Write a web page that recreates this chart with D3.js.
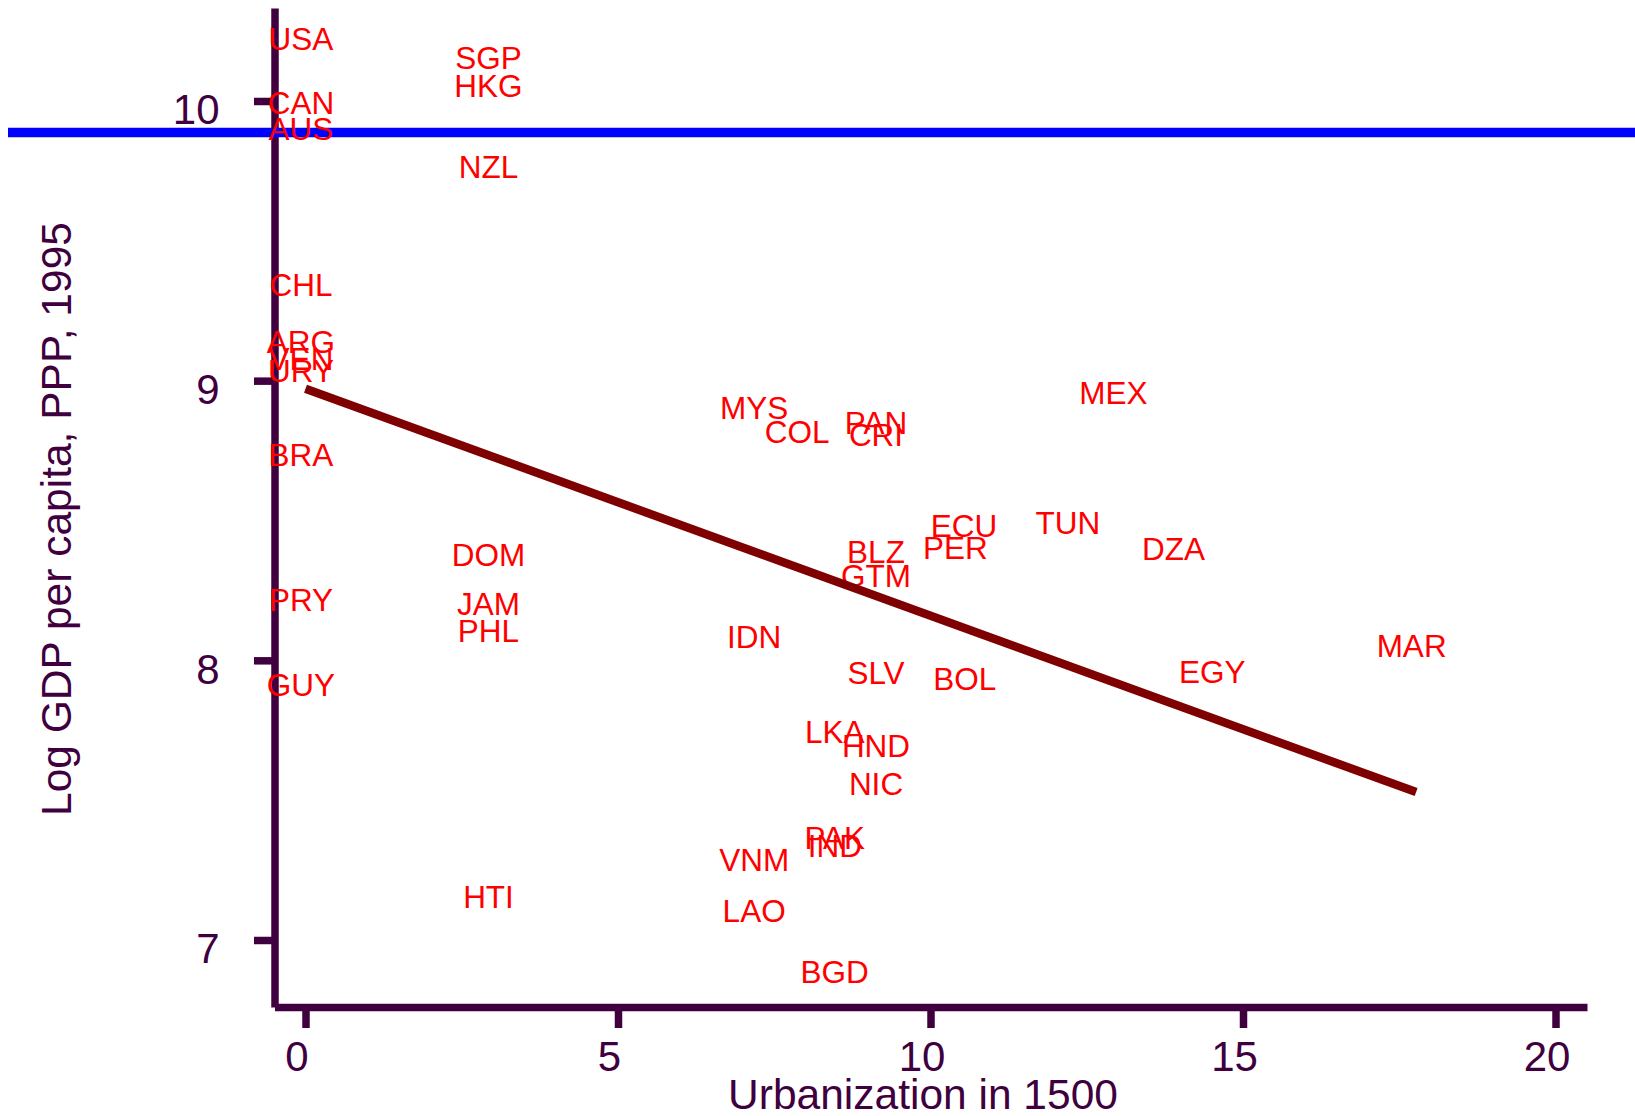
<!DOCTYPE html>
<html>
<head>
<meta charset="utf-8">
<script src="https://cdn.jsdelivr.net/npm/d3@7"></script>
<style>
  html, body { margin: 0; padding: 0; background: #fff; }
  svg { display: block; font-family: 'Liberation Sans', Arial, sans-serif; }
</style>
</head>
<body>
<script>
// Country codes, urbanization in 1500 and log GDP per capita 1995
const countries = ['USA', 'CAN', 'AUS', 'CHL', 'ARG', 'VEN', 'URY', 'BRA', 'PRY', 'GUY',
  'SGP', 'HKG', 'NZL', 'DOM', 'JAM', 'PHL', 'HTI',
  'MYS', 'COL', 'IDN', 'VNM', 'LAO',
  'LKA', 'PAK', 'IND', 'BGD',
  'PAN', 'CRI', 'BLZ', 'GTM', 'SLV', 'HND', 'NIC',
  'ECU', 'PER', 'BOL', 'TUN', 'MEX', 'DZA', 'EGY', 'MAR'];
const urban = [0, 0, 0, 0, 0, 0, 0, 0, 0, 0,
  3, 3, 3, 3, 3, 3, 3,
  7.25, 7.94, 7.25, 7.25, 7.25,
  8.54, 8.54, 8.54, 8.54,
  9.2, 9.2, 9.2, 9.2, 9.2, 9.2, 9.2,
  10.61, 10.47, 10.62, 12.27, 13, 13.96, 14.58, 17.77];
const logGdp = [10.221, 9.994, 9.901, 9.342, 9.140, 9.079, 9.034, 8.734, 8.217, 7.914,
  10.156, 10.054, 9.765, 8.378, 8.202, 8.106, 7.155,
  8.903, 8.817, 8.083, 7.285, 7.103,
  7.744, 7.364, 7.338, 6.886,
  8.851, 8.806, 8.389, 8.303, 7.956, 7.695, 7.557,
  8.482, 8.404, 7.934, 8.493, 8.956, 8.400, 7.960, 8.053];

// Fitted line end points and reference line
const fitX = [0, 17.77];
const fitY = [8.971, 7.529];
const refY = [9.887];

const xTicks = [0, 5, 10, 15, 20];
const yTicks = [7, 8, 9, 10];

document.addEventListener('DOMContentLoaded', () => {
  const width = 1635;
  const height = 1116;
  const axisColor = '#400040';

  const svg = d3.select('body')
    .append('svg')
    .attr('width', width)
    .attr('height', height);

  // Scales
  const xScale = d3.scaleLinear()
    .domain([-0.496, 20.504])
    .range([274.5, 1587]);

  const yScale = d3.scaleLinear()
    .domain([6.7604, 10.3325])
    .range([1007, 8]);

  // X axis
  const xAxis = d3.axisBottom(xScale)
    .tickValues(xTicks)
    .tickFormat(d3.format('d'))
    .tickSize(21)
    .tickSizeOuter(0);

  const gx = svg.append('g')
    .attr('transform', `translate(0, ${yScale.range()[0]})`)
    .call(xAxis);

  gx.select('.domain')
    .attr('stroke', axisColor)
    .attr('stroke-width', 7.5);
  gx.selectAll('.tick line')
    .attr('stroke', axisColor)
    .attr('stroke-width', 7.5);
  gx.selectAll('.tick text')
    .attr('fill', axisColor)
    .attr('font-size', 42)
    .attr('font-family', null)
    .attr('y', 64)
    .attr('dy', 0)
    .attr('dx', -9);

  // Y axis
  const yAxis = d3.axisLeft(yScale)
    .tickValues(yTicks)
    .tickFormat(d3.format('d'))
    .tickSize(20.5)
    .tickSizeOuter(0);

  const gy = svg.append('g')
    .attr('transform', `translate(${xScale.range()[0]}, 0)`)
    .call(yAxis);

  gy.select('.domain')
    .attr('stroke', axisColor)
    .attr('stroke-width', 7.5);
  gy.selectAll('.tick line')
    .attr('stroke', axisColor)
    .attr('stroke-width', 7.5);
  gy.selectAll('.tick text')
    .attr('fill', axisColor)
    .attr('font-size', 42)
    .attr('font-family', null)
    .attr('x', -55)
    .attr('dy', 0)
    .attr('y', 23);

  // Axis titles
  svg.append('text')
    .attr('x', 923)
    .attr('y', 1109)
    .attr('text-anchor', 'middle')
    .attr('font-size', 42.5)
    .attr('fill', axisColor)
    .text('Urbanization in 1500');

  svg.append('text')
    .attr('text-anchor', 'middle')
    .attr('transform', 'translate(70.5, 519) rotate(-90)')
    .attr('font-size', 42.5)
    .attr('fill', axisColor)
    .text('Log GDP per capita, PPP, 1995');

  // Horizontal reference line
  svg.selectAll('.ref')
    .data(refY)
    .enter()
    .append('line')
    .attr('class', 'ref')
    .attr('x1', 8)
    .attr('x2', width)
    .attr('y1', d => yScale(d))
    .attr('y2', d => yScale(d))
    .attr('stroke', '#0000ff')
    .attr('stroke-width', 9.5);

  // Country labels
  const points = countries.map((c, i) => ({ code: c, x: urban[i], y: logGdp[i] }));

  svg.selectAll('.lbl')
    .data(points)
    .enter()
    .append('text')
    .attr('class', 'lbl')
    .attr('x', d => xScale(d.x) - 4.5)
    .attr('y', d => yScale(d.y))
    .attr('dy', '0.355em')
    .attr('text-anchor', 'middle')
    .attr('font-size', 31.5)
    .attr('fill', '#ff0000')
    .text(d => d.code);

  // Fitted line
  const line = d3.line()
    .x(d => xScale(d[0]))
    .y(d => yScale(d[1]));

  svg.append('path')
    .datum(fitX.map((x, i) => [x, fitY[i]]))
    .attr('d', line)
    .attr('fill', 'none')
    .attr('stroke', '#7f0000')
    .attr('stroke-width', 8.5);
});
</script>
</body>
</html>
